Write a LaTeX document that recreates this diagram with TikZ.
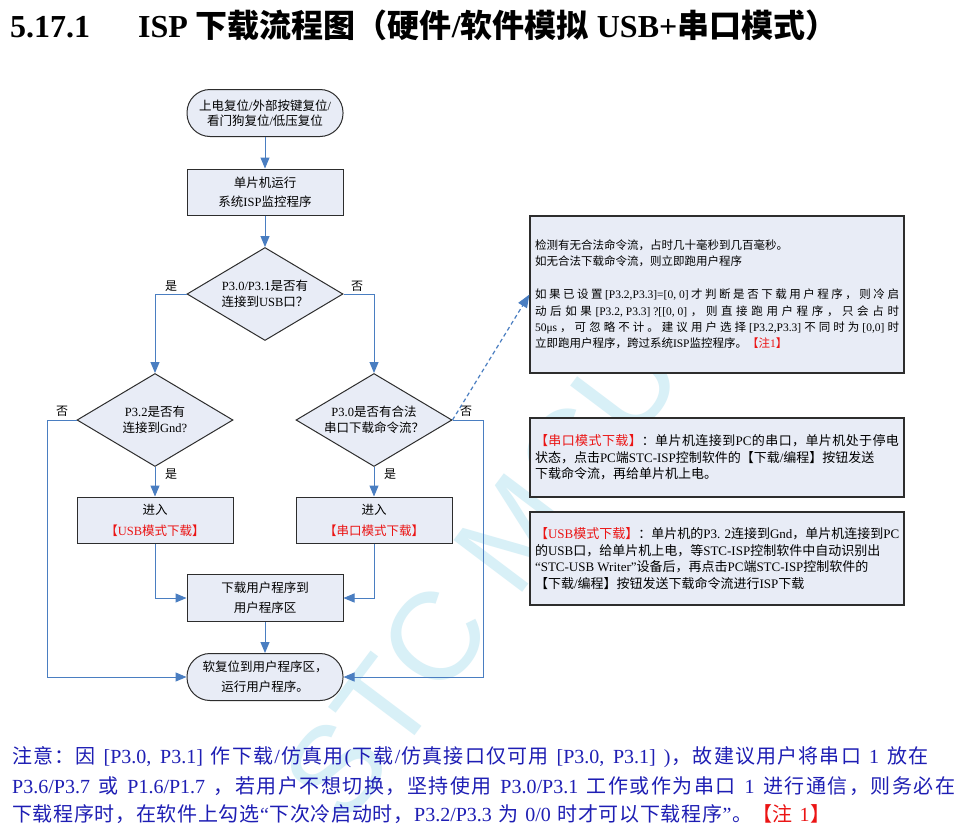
\documentclass[tikz,border=0pt]{standalone}
\usepackage{fontspec}
\setmainfont{Liberation Serif}
\newfontfamily\cjkfont{Noto Sans CJK SC}
\newfontfamily\wmfont{Liberation Sans}
\usetikzlibrary{shapes.geometric,arrows.meta}
\setlength\parindent{0pt}
% automatic switching between Latin and CJK fonts
\XeTeXinterchartokenstate=1
\newcount\cjkc
\def\cjkrange#1#2{\cjkc=#1\relax\loop\XeTeXcharclass\cjkc=7\relax\ifnum\cjkc<#2\relax\advance\cjkc by 1\relax\repeat}
\cjkrange{"3000}{"303F}
\cjkrange{"4E00}{"9FFF}
\cjkrange{"FF00}{"FFEF}
\XeTeXinterchartoks 0 7 = {\nobreak\hskip0pt plus 1pt\cjkfont}
\XeTeXinterchartoks 4095 7 = {\cjkfont}
\XeTeXinterchartoks 7 7 = {\nobreak\hskip0pt plus 1pt\cjkfont}
\XeTeXinterchartoks 7 0 = {\nobreak\hskip0pt plus 1pt\rmfamily}
\XeTeXinterchartoks 7 4095 = {\rmfamily}
\newcommand\fsz[2]{\fontsize{#1}{#2}\selectfont}
\newcommand\tightsp[1]{\spaceskip=#1\relax}
\definecolor{boxf}{RGB}{232,236,246}
\definecolor{bordc}{RGB}{45,45,45}
\definecolor{linec}{RGB}{74,126,193}
\definecolor{redc}{RGB}{235,20,20}
\definecolor{footc}{RGB}{30,30,180}
\definecolor{wmc}{RGB}{216,240,247}
\tikzset{
  box/.style={draw=bordc, fill=boxf, line width=1pt, minimum width=156pt,
    minimum height=46pt, align=center, inner sep=2pt},
  term/.style={box, minimum height=47pt, rounded corners=23pt},
  dia/.style={draw=bordc, fill=boxf, line width=1pt, shape=diamond, aspect=1.68,
    minimum width=156pt, minimum height=93pt, inner sep=0pt, align=center,
    font=\fsz{12.5}{16.5}},
  note/.style={draw=bordc, fill=boxf, line width=1.2pt, minimum width=374pt,
    text width=364pt, align=justify, inner xsep=5pt},
  arr/.style={draw=linec, line width=1pt, -{Triangle[length=11pt,width=9pt]}},
  dasharr/.style={draw=linec, line width=1.2pt, dash pattern=on 4pt off 3pt,
    -{Triangle[length=13pt,width=10pt]}},
  lab/.style={font=\fsz{12}{14}, inner sep=0pt},
  foot/.style={font=\fsz{20}{24}, text=footc, inner sep=0pt, anchor=base west},
}
\begin{document}
\begin{tikzpicture}[x=1pt,y=-1pt]
\useasboundingbox (0,0) rectangle (958,833);
\fill[white] (0,0) rectangle (958,833);
% watermark
\node[rotate=53, font=\wmfont\fsz{125}{125}, text=wmc, inner sep=0pt] (wm) at (482,575) {STC MCU};
% title
\node[anchor=base west, font=\fsz{32}{34}\bfseries, inner sep=0pt] (t1) at (10,37) {5.17.1};
\node[anchor=base west, font=\fsz{32}{34}\bfseries, inner sep=0pt] (t2) at (138,37) {ISP 下载流程图（硬件/软件模拟 USB+串口模式）};
% flowchart
\node[term, font=\fsz{12.5}{15.5}] (start) at (265,113) {上电复位/外部按键复位/\\看门狗复位/低压复位};
\node[box, font=\fsz{12.5}{19}] (b1) at (265,192) {单片机运行\\系统ISP监控程序};
\node[dia] (d1) at (265,294) {P3.0/P3.1是否有\\连接到USB口？};
\node[dia] (d2) at (155,420) {P3.2是否有\\连接到Gnd?};
\node[dia] (d3) at (374,420) {P3.0是否有合法\\串口下载命令流？};
\node[box, font=\fsz{12.5}{21}] (usb) at (155,520) {进入\\\color{redc}【USB模式下载】};
\node[box, font=\fsz{12.5}{21}] (ser) at (374,520) {进入\\\color{redc}【串口模式下载】};
\node[box, minimum height=47pt, font=\fsz{12.5}{20}] (dl) at (265,598) {下载用户程序到\\用户程序区};
\node[term, font=\fsz{12.5}{20}] (end) at (265,677) {软复位到用户程序区，\\运行用户程序。};
\coordinate (lc) at (47,420);
\coordinate (rc) at (483,420);
\draw[arr] (start) -- (b1);
\draw[arr] (b1) -- (d1);
\draw[arr] (d1.west) -| (d2.north);
\draw[arr] (d1.east) -| (d3.north);
\draw[arr] (d2.south) -- (usb.north);
\draw[arr] (d3.south) -- (ser.north);
\draw[arr] (usb.south) |- (dl.west);
\draw[arr] (ser.south) |- (dl.east);
\draw[arr] (dl) -- (end);
\draw[arr] (d2.west) -- (lc) |- (end.west);
\draw[arr] (d3.east) -- (rc) |- (end.east);
\node[lab] (l1) at (171,286) {是};
\node[lab] (l2) at (357,286) {否};
\node[lab] (l3) at (62,411) {否};
\node[lab] (l4) at (466,411) {否};
\node[lab] (l5) at (171,474) {是};
\node[lab] (l6) at (390,474) {是};
% notes
\node[note, minimum height=157pt, font=\fsz{11.5}{16.4}\tightsp{2.9pt}] (n1) at (717,294.5) {检测有无合法命令流，占时几十毫秒到几百毫秒。\par
如无合法下载命令流，则立即跑用户程序\par
\vspace{16.4pt}
如果已设置[P3.2,P3.3]=[0, 0]才判断是否下载用户程序，则冷启\linebreak
动后如果[P3.2, P3.3] ?[[0, 0]，则直接跑用户程序，只会占时\linebreak
50μs，可忽略不计。建议用户选择[P3.2,P3.3]不同时为[0,0]时\linebreak
立即跑用户程序，跨过系统ISP监控程序。\color{redc}【注1】};
\node[note, minimum height=79pt, font=\fsz{13}{16.5}\tightsp{3.2pt}] (n2) at (717,457.5) {\color{redc}【串口模式下载】\color{black}：单片机连接到PC的串口，单片机处于停电\linebreak
状态，点击PC端STC-ISP控制软件的【下载/编程】按钮发送\\
下载命令流，再给单片机上电。};
\node[note, minimum height=93pt, font=\fsz{13}{16.5}\tightsp{3.2pt}] (n3) at (717,558.5) {\color{redc}【USB模式下载】\color{black}：单片机的P3. 2连接到Gnd，单片机连接到PC\\
的USB口，给单片机上电，等STC-ISP控制软件中自动识别出\\
“STC-USB Writer”设备后，再点击PC端STC-ISP控制软件的\\
【下载/编程】按钮发送下载命令流进行ISP下载};
\draw[dasharr] (d3.east) -- (n1.west);
% footer
\node[foot] (f1) at (12,763) {\makebox[916pt][s]{注意：因 [P3.0, P3.1] 作下载/仿真用(下载/仿真接口仅可用 [P3.0, P3.1] )，故建议用户将串口 1 放在}};
\node[foot] (f2) at (12,793) {\makebox[943pt][s]{P3.6/P3.7 或 P1.6/P1.7 ，若用户不想切换，坚持使用 P3.0/P3.1 工作或作为串口 1 进行通信，则务必在}};
\node[foot] (f3) at (12,821) {\makebox[818pt][s]{下载程序时，在软件上勾选“下次冷启动时，P3.2/P3.3 为 0/0 时才可以下载程序”。\color{redc}【注 1】}};
\end{tikzpicture}
\end{document}
